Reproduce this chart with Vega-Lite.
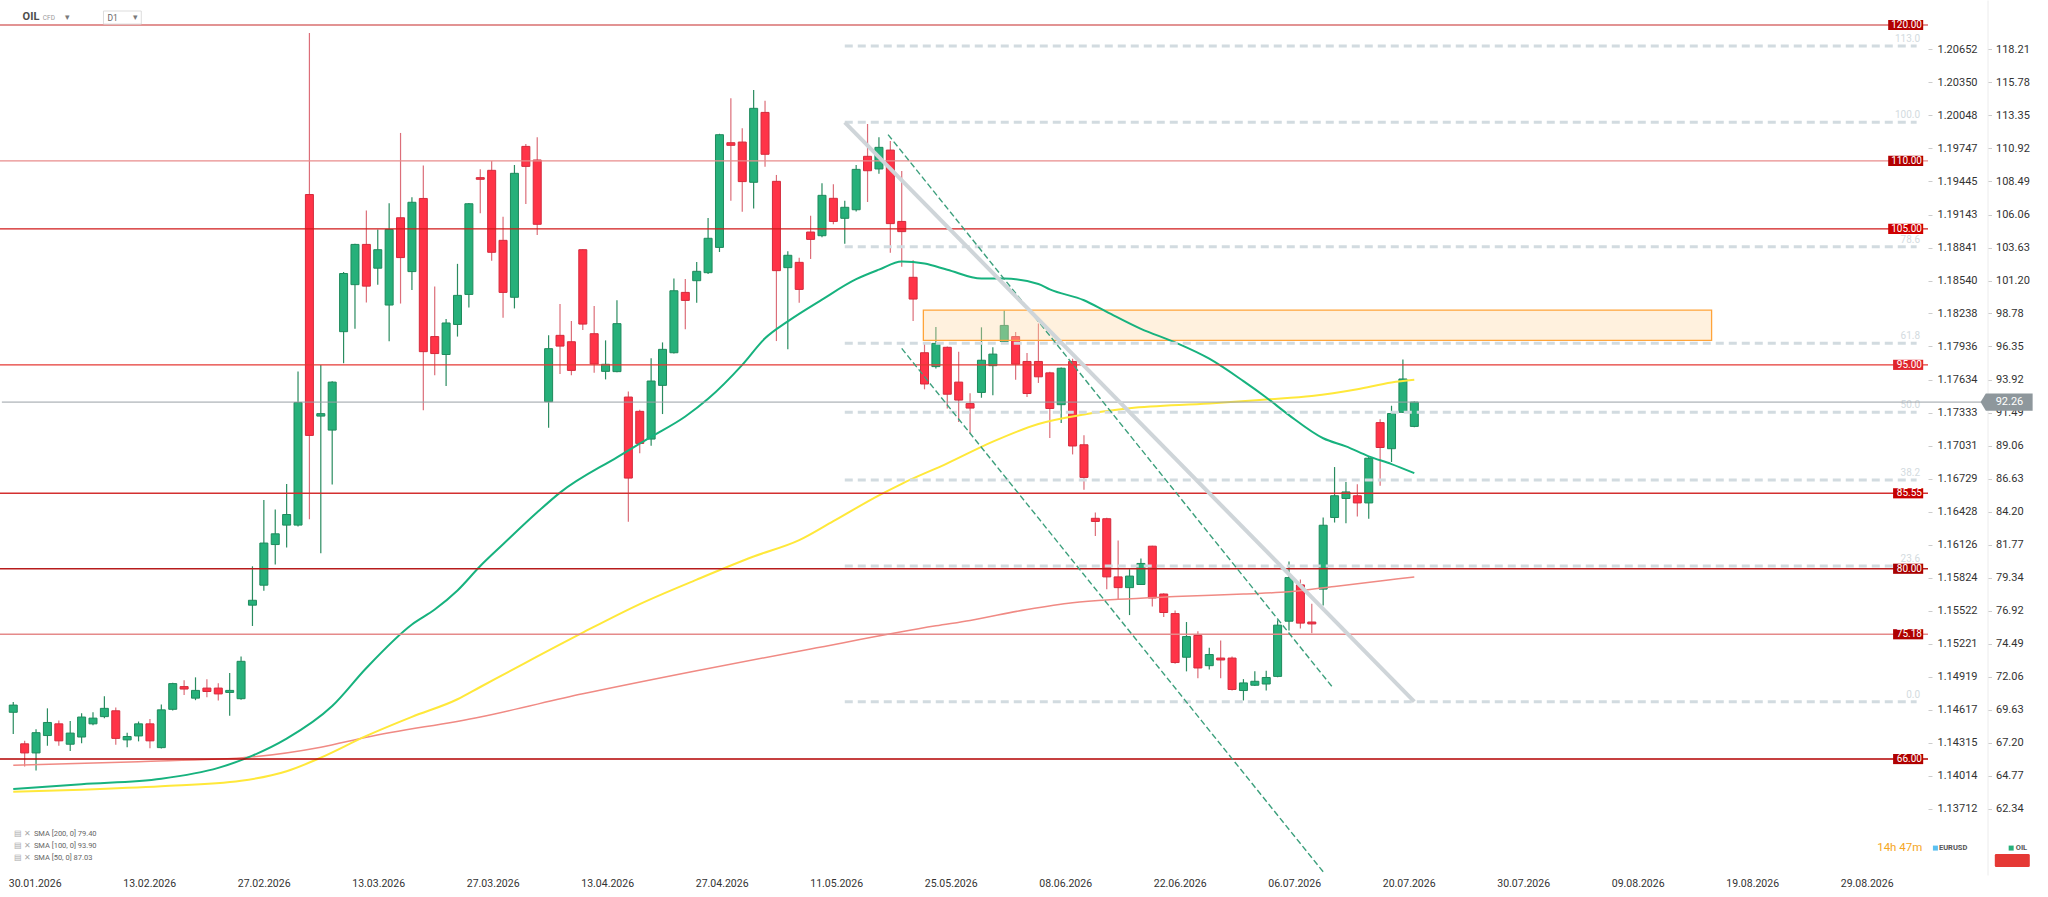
{
  "$schema": "https://vega.github.io/schema/vega-lite/v6.json",
  "width": 1928,
  "height": 875,
  "autosize": {"type": "none"},
  "padding": {"left": 0, "top": 0, "right": 120, "bottom": 22},
  "background": "white",
  "config": {"view": {"stroke": null}, "font": "Roboto", "axis": {"labelFont": "Roboto"}, "text": {"font": "Roboto"}},
  "datasets": {
    "candles": [
      {"i":0,"date":"2026-01-30","o":69.44,"h":70.19,"l":67.84,"c":69.97},
      {"i":1,"date":"2026-02-02","o":67.12,"h":67.34,"l":65.45,"c":66.45},
      {"i":2,"date":"2026-02-03","o":66.45,"h":68.19,"l":65.16,"c":67.94},
      {"i":3,"date":"2026-02-04","o":67.73,"h":69.73,"l":66.98,"c":68.69},
      {"i":4,"date":"2026-02-05","o":68.59,"h":68.83,"l":66.98,"c":67.34},
      {"i":5,"date":"2026-02-06","o":67.09,"h":68.8,"l":66.59,"c":67.91},
      {"i":6,"date":"2026-02-09","o":67.62,"h":69.37,"l":67.16,"c":69.09},
      {"i":7,"date":"2026-02-10","o":68.59,"h":69.44,"l":68.48,"c":69.01},
      {"i":8,"date":"2026-02-11","o":69.12,"h":70.62,"l":69.01,"c":69.73},
      {"i":9,"date":"2026-02-12","o":69.55,"h":69.8,"l":67.05,"c":67.52},
      {"i":10,"date":"2026-02-13","o":67.41,"h":67.94,"l":66.87,"c":67.66},
      {"i":11,"date":"2026-02-16","o":67.7,"h":68.76,"l":67.3,"c":68.59},
      {"i":12,"date":"2026-02-17","o":68.59,"h":68.94,"l":66.8,"c":67.34},
      {"i":13,"date":"2026-02-18","o":66.84,"h":70.01,"l":66.77,"c":69.62},
      {"i":14,"date":"2026-02-19","o":69.66,"h":71.62,"l":69.58,"c":71.55},
      {"i":15,"date":"2026-02-20","o":71.33,"h":71.8,"l":70.72,"c":71.15},
      {"i":16,"date":"2026-02-23","o":70.48,"h":72.01,"l":70.33,"c":71.05},
      {"i":17,"date":"2026-02-24","o":71.22,"h":71.87,"l":70.55,"c":70.97},
      {"i":18,"date":"2026-02-25","o":71.22,"h":71.58,"l":70.3,"c":70.79},
      {"i":19,"date":"2026-02-26","o":70.9,"h":72.33,"l":69.19,"c":71.05},
      {"i":20,"date":"2026-02-27","o":70.44,"h":73.54,"l":70.37,"c":73.19},
      {"i":21,"date":"2026-03-02","o":77.32,"h":80.18,"l":75.79,"c":77.68},
      {"i":22,"date":"2026-03-03","o":78.79,"h":85.06,"l":78.39,"c":81.89},
      {"i":23,"date":"2026-03-04","o":81.78,"h":84.35,"l":80.32,"c":82.57},
      {"i":24,"date":"2026-03-05","o":83.21,"h":86.24,"l":81.57,"c":83.99},
      {"i":25,"date":"2026-03-06","o":83.21,"h":94.51,"l":83.1,"c":92.23},
      {"i":26,"date":"2026-03-09","o":107.53,"h":119.41,"l":83.64,"c":89.81},
      {"i":27,"date":"2026-03-10","o":91.23,"h":94.98,"l":81.14,"c":91.41},
      {"i":28,"date":"2026-03-11","o":90.2,"h":93.8,"l":86.2,"c":93.73},
      {"i":29,"date":"2026-03-12","o":97.44,"h":101.83,"l":95.12,"c":101.72},
      {"i":30,"date":"2026-03-13","o":100.9,"h":103.9,"l":97.65,"c":103.86},
      {"i":31,"date":"2026-03-16","o":103.86,"h":106.35,"l":99.58,"c":100.79},
      {"i":32,"date":"2026-03-17","o":102.11,"h":104.96,"l":100.9,"c":103.47},
      {"i":33,"date":"2026-03-18","o":99.4,"h":106.89,"l":96.73,"c":104.96},
      {"i":34,"date":"2026-03-19","o":105.82,"h":112.06,"l":99.51,"c":102.89},
      {"i":35,"date":"2026-03-20","o":101.86,"h":107.32,"l":100.51,"c":106.96},
      {"i":36,"date":"2026-03-23","o":107.24,"h":109.67,"l":91.66,"c":95.97},
      {"i":37,"date":"2026-03-24","o":97.08,"h":100.76,"l":94.23,"c":95.83},
      {"i":38,"date":"2026-03-25","o":95.76,"h":98.37,"l":93.44,"c":98.08},
      {"i":39,"date":"2026-03-26","o":97.97,"h":102.43,"l":97.08,"c":100.11},
      {"i":40,"date":"2026-03-27","o":100.18,"h":106.9,"l":99.22,"c":106.85},
      {"i":41,"date":"2026-03-30","o":108.77,"h":109.38,"l":106.15,"c":108.65},
      {"i":42,"date":"2026-03-31","o":109.31,"h":109.99,"l":102.66,"c":103.28},
      {"i":43,"date":"2026-04-01","o":104.16,"h":105.9,"l":98.47,"c":100.33},
      {"i":44,"date":"2026-04-02","o":99.97,"h":109.7,"l":99.15,"c":109.09},
      {"i":45,"date":"2026-04-06","o":111.07,"h":111.25,"l":106.83,"c":109.6},
      {"i":46,"date":"2026-04-07","o":110.07,"h":111.74,"l":104.55,"c":105.34},
      {"i":47,"date":"2026-04-08","o":92.29,"h":97.17,"l":90.38,"c":96.19},
      {"i":48,"date":"2026-04-09","o":97.17,"h":99.47,"l":94.33,"c":96.38},
      {"i":49,"date":"2026-04-10","o":96.7,"h":98.22,"l":94.23,"c":94.59},
      {"i":50,"date":"2026-04-13","o":103.47,"h":103.5,"l":97.56,"c":98.0},
      {"i":51,"date":"2026-04-14","o":97.29,"h":99.33,"l":94.42,"c":95.06},
      {"i":52,"date":"2026-04-15","o":94.52,"h":96.8,"l":93.93,"c":95.04},
      {"i":53,"date":"2026-04-16","o":94.5,"h":99.75,"l":94.45,"c":98.03},
      {"i":54,"date":"2026-04-17","o":92.63,"h":93.03,"l":83.46,"c":86.67},
      {"i":55,"date":"2026-04-20","o":91.58,"h":91.7,"l":88.49,"c":89.22},
      {"i":56,"date":"2026-04-21","o":89.54,"h":95.48,"l":89.05,"c":93.81},
      {"i":57,"date":"2026-04-22","o":93.49,"h":96.65,"l":91.38,"c":96.14},
      {"i":58,"date":"2026-04-23","o":95.89,"h":101.36,"l":95.84,"c":100.45},
      {"i":59,"date":"2026-04-24","o":100.33,"h":101.31,"l":97.61,"c":99.74},
      {"i":60,"date":"2026-04-27","o":101.19,"h":102.56,"l":99.57,"c":101.88},
      {"i":61,"date":"2026-04-28","o":101.78,"h":105.8,"l":101.68,"c":104.31},
      {"i":62,"date":"2026-04-29","o":103.64,"h":112.0,"l":103.3,"c":111.93},
      {"i":63,"date":"2026-04-30","o":111.34,"h":114.61,"l":107.08,"c":111.15},
      {"i":64,"date":"2026-05-01","o":111.39,"h":112.4,"l":106.27,"c":108.48},
      {"i":65,"date":"2026-05-04","o":108.43,"h":115.22,"l":106.51,"c":113.87},
      {"i":66,"date":"2026-05-05","o":113.57,"h":114.43,"l":109.58,"c":110.49},
      {"i":67,"date":"2026-05-06","o":108.5,"h":108.97,"l":96.75,"c":101.93},
      {"i":68,"date":"2026-05-07","o":102.15,"h":103.35,"l":96.14,"c":103.06},
      {"i":69,"date":"2026-05-08","o":102.54,"h":102.88,"l":99.57,"c":100.55},
      {"i":70,"date":"2026-05-11","o":104.77,"h":105.97,"l":102.79,"c":104.23},
      {"i":71,"date":"2026-05-12","o":104.5,"h":108.35,"l":104.38,"c":107.47},
      {"i":72,"date":"2026-05-13","o":107.25,"h":108.28,"l":105.34,"c":105.55},
      {"i":73,"date":"2026-05-14","o":105.78,"h":107.08,"l":103.91,"c":106.59},
      {"i":74,"date":"2026-05-15","o":106.41,"h":109.7,"l":106.29,"c":109.38},
      {"i":75,"date":"2026-05-18","o":110.34,"h":112.72,"l":106.98,"c":109.28},
      {"i":76,"date":"2026-05-19","o":109.41,"h":111.74,"l":109.06,"c":111.0},
      {"i":77,"date":"2026-05-20","o":110.8,"h":111.47,"l":103.25,"c":105.39},
      {"i":78,"date":"2026-05-21","o":105.55,"h":109.26,"l":102.22,"c":104.8},
      {"i":79,"date":"2026-05-22","o":101.44,"h":102.69,"l":98.22,"c":99.84},
      {"i":80,"date":"2026-05-25","o":95.89,"h":96.58,"l":93.2,"c":93.59},
      {"i":81,"date":"2026-05-26","o":94.87,"h":97.78,"l":94.74,"c":96.58},
      {"i":82,"date":"2026-05-27","o":96.29,"h":96.35,"l":91.79,"c":92.84},
      {"i":83,"date":"2026-05-28","o":93.73,"h":95.96,"l":90.8,"c":92.41},
      {"i":84,"date":"2026-05-29","o":92.15,"h":92.91,"l":89.96,"c":91.82},
      {"i":85,"date":"2026-06-01","o":92.97,"h":97.76,"l":92.58,"c":95.34},
      {"i":86,"date":"2026-06-02","o":94.94,"h":96.29,"l":92.77,"c":95.79},
      {"i":87,"date":"2026-06-03","o":96.72,"h":99.0,"l":96.6,"c":97.9},
      {"i":88,"date":"2026-06-04","o":97.08,"h":97.42,"l":93.9,"c":95.05},
      {"i":89,"date":"2026-06-05","o":95.25,"h":95.87,"l":92.63,"c":92.89},
      {"i":90,"date":"2026-06-08","o":95.25,"h":98.04,"l":93.67,"c":94.12},
      {"i":91,"date":"2026-06-09","o":94.41,"h":94.5,"l":89.62,"c":91.79},
      {"i":92,"date":"2026-06-10","o":92.07,"h":94.8,"l":90.72,"c":94.75},
      {"i":93,"date":"2026-06-11","o":95.25,"h":95.45,"l":88.41,"c":89.03},
      {"i":94,"date":"2026-06-12","o":89.12,"h":89.82,"l":85.82,"c":86.72},
      {"i":95,"date":"2026-06-15","o":83.71,"h":84.13,"l":82.41,"c":83.48},
      {"i":96,"date":"2026-06-16","o":83.68,"h":83.75,"l":78.5,"c":79.4},
      {"i":97,"date":"2026-06-17","o":79.4,"h":82.08,"l":77.71,"c":78.61},
      {"i":98,"date":"2026-06-18","o":78.61,"h":79.97,"l":76.59,"c":79.46},
      {"i":99,"date":"2026-06-19","o":78.84,"h":80.75,"l":78.8,"c":80.39},
      {"i":100,"date":"2026-06-22","o":81.66,"h":81.7,"l":77.23,"c":77.85},
      {"i":101,"date":"2026-06-23","o":78.14,"h":78.2,"l":76.45,"c":76.78},
      {"i":102,"date":"2026-06-24","o":76.7,"h":76.92,"l":73.01,"c":73.1},
      {"i":103,"date":"2026-06-25","o":73.49,"h":76.08,"l":72.45,"c":75.01},
      {"i":104,"date":"2026-06-26","o":75.09,"h":75.41,"l":71.94,"c":72.7},
      {"i":105,"date":"2026-06-29","o":72.87,"h":74.19,"l":72.59,"c":73.69},
      {"i":106,"date":"2026-06-30","o":73.43,"h":74.73,"l":71.94,"c":73.29},
      {"i":107,"date":"2026-07-01","o":73.43,"h":73.54,"l":71.04,"c":71.12},
      {"i":108,"date":"2026-07-02","o":71.04,"h":71.88,"l":70.31,"c":71.6},
      {"i":109,"date":"2026-07-03","o":71.43,"h":72.45,"l":71.38,"c":71.72},
      {"i":110,"date":"2026-07-06","o":71.52,"h":72.5,"l":71.04,"c":72.0},
      {"i":111,"date":"2026-07-07","o":72.08,"h":76.22,"l":72.02,"c":75.85},
      {"i":112,"date":"2026-07-08","o":76.14,"h":80.53,"l":75.46,"c":79.35},
      {"i":113,"date":"2026-07-09","o":78.81,"h":79.21,"l":75.6,"c":76.0},
      {"i":114,"date":"2026-07-10","o":76.08,"h":77.43,"l":75.26,"c":75.94},
      {"i":115,"date":"2026-07-13","o":78.5,"h":83.77,"l":77.29,"c":83.2},
      {"i":116,"date":"2026-07-14","o":83.77,"h":87.48,"l":83.4,"c":85.37},
      {"i":117,"date":"2026-07-15","o":85.17,"h":86.39,"l":83.34,"c":85.65},
      {"i":118,"date":"2026-07-16","o":85.37,"h":86.22,"l":83.85,"c":84.84},
      {"i":119,"date":"2026-07-17","o":84.84,"h":88.27,"l":83.68,"c":88.13},
      {"i":120,"date":"2026-07-20","o":90.75,"h":91.0,"l":86.1,"c":88.92},
      {"i":121,"date":"2026-07-21","o":88.83,"h":91.99,"l":87.85,"c":91.42},
      {"i":122,"date":"2026-07-22","o":91.51,"h":95.39,"l":91.45,"c":93.96},
      {"i":123,"date":"2026-07-23","o":90.47,"h":92.3,"l":90.4,"c":92.26}
    ],
    "sma50": [
      {"i":0,"v":63.8},{"i":6,"v":64.15},{"i":13,"v":64.55},{"i":18,"v":65.35},{"i":21,"v":66.25},{"i":24,"v":67.5},{"i":28,"v":69.9},{"i":31,"v":72.7},{"i":35,"v":75.9},{"i":37,"v":77.0},{"i":39,"v":78.4},{"i":41,"v":80.2},{"i":43,"v":81.8},{"i":46,"v":84.15},{"i":48,"v":85.6},{"i":53,"v":88.2},{"i":56,"v":89.7},{"i":59,"v":91.2},{"i":61,"v":92.5},{"i":64,"v":95.0},{"i":66,"v":96.95},{"i":68,"v":98.2},{"i":71,"v":99.8},{"i":74,"v":101.3},{"i":76,"v":102.0},{"i":78,"v":102.6},{"i":80,"v":102.45},{"i":82,"v":102.0},{"i":85,"v":101.35},{"i":87,"v":101.35},{"i":90,"v":100.95},{"i":91,"v":100.55},{"i":94,"v":99.75},{"i":96,"v":98.9},{"i":99,"v":97.65},{"i":102,"v":96.65},{"i":105,"v":95.45},{"i":108,"v":93.8},{"i":110,"v":92.6},{"i":112,"v":91.3},{"i":115,"v":89.6},{"i":117,"v":89.0},{"i":119,"v":88.27},{"i":121,"v":87.7},{"i":123,"v":87.03}
    ],
    "sma100": [
      {"i":0,"v":63.6},{"i":6,"v":63.75},{"i":13,"v":64.0},{"i":20,"v":64.4},{"i":24,"v":65.1},{"i":27,"v":66.1},{"i":31,"v":67.7},{"i":35,"v":69.1},{"i":39,"v":70.4},{"i":41,"v":71.3},{"i":45,"v":73.1},{"i":50,"v":75.3},{"i":55,"v":77.4},{"i":60,"v":79.2},{"i":65,"v":80.9},{"i":69,"v":82.1},{"i":72,"v":83.5},{"i":76,"v":85.4},{"i":78,"v":86.25},{"i":82,"v":87.75},{"i":86,"v":89.35},{"i":90,"v":90.65},{"i":94,"v":91.35},{"i":98,"v":91.8},{"i":105,"v":92.15},{"i":110,"v":92.45},{"i":114,"v":92.7},{"i":118,"v":93.2},{"i":121,"v":93.7},{"i":123,"v":93.9}
    ],
    "sma200": [
      {"i":0,"v":65.55},{"i":11,"v":65.8},{"i":21,"v":66.16},{"i":27,"v":66.87},{"i":31,"v":67.6},{"i":41,"v":69.1},{"i":50,"v":70.8},{"i":60,"v":72.5},{"i":70,"v":74.1},{"i":81,"v":75.8},{"i":84,"v":76.2},{"i":89,"v":77.0},{"i":93,"v":77.5},{"i":97,"v":77.75},{"i":102,"v":77.95},{"i":108,"v":78.15},{"i":112,"v":78.3},{"i":116,"v":78.7},{"i":120,"v":79.1},{"i":123,"v":79.4}
    ],
    "levels": [
      {"label":"120.00","v":120},{"label":"110.00","v":110},{"label":"105.00","v":105},{"label":"95.00","v":95},{"label":"85.55","v":85.55},{"label":"80.00","v":80},{"label":"75.18","v":75.18},{"label":"66.00","v":66}
    ],
    "fib": [
      {"pct":"113.0","v":118.46},{"pct":"100.0","v":112.84},{"pct":"78.6","v":103.69},{"pct":"61.8","v":96.58},{"pct":"50.0","v":91.51},{"pct":"38.2","v":86.53},{"pct":"23.6","v":80.2},{"pct":"0.0","v":70.22}
    ],
    "channel": [
      {"id":"A","i":76.8,"v":111.94},{"id":"A","i":115.9,"v":71.2},
      {"id":"B","i":78.0,"v":96.21},{"id":"B","i":115.1,"v":57.6}
    ],
    "fibline": [{"i":73.0,"v":112.84},{"i":123.0,"v":70.22}],
    "zone": [{"i1":79.9,"i2":149.1,"v1":96.8,"v2":99.03}]
  },
  "layer": [
    {
      "layer": [
        {
          "data": {"name": "candles"},
          "mark": {"type": "rule", "strokeWidth": 1.2},
          "encoding": {
            "x": {"field": "i", "type": "quantitative", "axis": null,
              "scale": {"domain": [-0.725, 167.66], "nice": false, "zero": false}},
            "y": {"field": "l", "type": "quantitative", "axis": null,
              "scale": {"domain": [57.47, 121.84], "nice": false, "zero": false}},
            "y2": {"field": "h"},
            "color": {"condition": {"test": "datum.c >= datum.o", "value": "#2a8c60"}, "value": "#dc6e79"}
          }
        },
        {
          "data": {"name": "candles"},
          "mark": {"type": "bar", "width": 8, "strokeWidth": 1},
          "encoding": {
            "x": {"field": "i", "type": "quantitative", "axis": null},
            "y": {"field": "o", "type": "quantitative", "axis": null},
            "y2": {"field": "c"},
            "fill": {"condition": {"test": "datum.c >= datum.o", "value": "#26b07a"}, "value": "#ff3347"},
            "stroke": {"condition": {"test": "datum.c >= datum.o", "value": "#1e8a5c"}, "value": "#d42a3c"}
          }
        },
        {
          "data": {"name": "zone"},
          "mark": {"type": "rect", "fill": "#ffd9a8", "fillOpacity": 0.38, "stroke": "#ffa43a", "strokeWidth": 1.3},
          "encoding": {
            "x": {"field": "i1", "type": "quantitative", "axis": null},
            "x2": {"field": "i2"},
            "y": {"field": "v1", "type": "quantitative", "axis": null},
            "y2": {"field": "v2"}
          }
        },
        {
          "data": {"name": "sma200"},
          "mark": {"type": "line", "color": "#f08a84", "strokeWidth": 1.5, "interpolate": "monotone"},
          "encoding": {
            "x": {"field": "i", "type": "quantitative", "axis": null},
            "y": {"field": "v", "type": "quantitative", "axis": null}
          }
        },
        {
          "data": {"name": "sma100"},
          "mark": {"type": "line", "color": "#ffe83a", "strokeWidth": 2, "interpolate": "monotone"},
          "encoding": {
            "x": {"field": "i", "type": "quantitative", "axis": null},
            "y": {"field": "v", "type": "quantitative", "axis": null}
          }
        },
        {
          "data": {"name": "sma50"},
          "mark": {"type": "line", "color": "#17b27e", "strokeWidth": 2, "interpolate": "monotone"},
          "encoding": {
            "x": {"field": "i", "type": "quantitative", "axis": null},
            "y": {"field": "v", "type": "quantitative", "axis": null}
          }
        },
        {
          "data": {"name": "fib"},
          "mark": {"type": "rule", "color": "#d2dbe0", "strokeWidth": 3, "strokeDash": [8, 5]},
          "encoding": {
            "x": {"datum": 73.0, "type": "quantitative", "axis": null},
            "x2": {"datum": 167.1},
            "y": {"field": "v", "type": "quantitative", "axis": null}
          }
        },
        {
          "data": {"name": "fib"},
          "mark": {"type": "text", "align": "right", "baseline": "bottom", "dy": -2, "fontSize": 10, "color": "#d3dbe0"},
          "encoding": {
            "x": {"datum": 167.4, "type": "quantitative", "axis": null},
            "y": {"field": "v", "type": "quantitative", "axis": null},
            "text": {"field": "pct"}
          }
        },
        {
          "data": {"values": [{}]},
          "mark": {"type": "rule", "color": "#9aa1a6", "strokeWidth": 1},
          "encoding": {
            "x": {"datum": -1, "type": "quantitative", "axis": null},
            "x2": {"datum": 172.8},
            "y": {"datum": 92.26, "type": "quantitative", "axis": null}
          }
        },
        {
          "data": {"name": "levels"},
          "mark": {"type": "rule"},
          "encoding": {
            "y": {"field": "v", "type": "quantitative", "axis": null},
            "stroke": {"field": "label", "type": "nominal", "legend": null,
              "scale": {"domain": ["120.00","110.00","105.00","95.00","85.55","80.00","75.18","66.00"],
                "range": ["#c62828","#e88c8c","#d11a1a","#e53935","#d32f2f","#b71c1c","#e58a8a","#b30000"]}},
            "strokeWidth": {"field": "label", "type": "ordinal", "legend": null,
              "scale": {"domain": ["120.00","110.00","105.00","95.00","85.55","80.00","75.18","66.00"],
                "range": [1.2, 1.6, 2, 2, 2, 2, 1.6, 2.6]}}
          }
        },
        {
          "data": {"name": "channel"},
          "mark": {"type": "line", "color": "#3c9f7c", "strokeWidth": 1.4, "strokeDash": [6, 3]},
          "encoding": {
            "x": {"field": "i", "type": "quantitative", "axis": null},
            "y": {"field": "v", "type": "quantitative", "axis": null},
            "detail": {"field": "id"}
          }
        },
        {
          "data": {"name": "fibline"},
          "mark": {"type": "line", "color": "#cfd5d9", "strokeWidth": 4},
          "encoding": {
            "x": {"field": "i", "type": "quantitative", "axis": null},
            "y": {"field": "v", "type": "quantitative", "axis": null}
          }
        },
        {
          "data": {"name": "levels"},
          "mark": {"type": "point", "filled": true, "size": 1225, "opacity": 1, "strokeWidth": 0},
          "encoding": {
            "x": {"datum": 166.14, "type": "quantitative", "axis": null},
            "y": {"field": "v", "type": "quantitative", "axis": null},
            "shape": {"field": "label", "type": "nominal", "legend": null,
              "scale": {"domain": ["120.00","110.00","105.00","95.00","85.55","80.00","75.18","66.00"],
                "range": ["M-1,-0.29L1,-0.29L1,0.29L-1,0.29Z","M-1,-0.29L1,-0.29L1,0.29L-1,0.29Z","M-1,-0.29L1,-0.29L1,0.29L-1,0.29Z","M-0.72,-0.29L1,-0.29L1,0.29L-0.72,0.29Z","M-0.72,-0.29L1,-0.29L1,0.29L-0.72,0.29Z","M-0.72,-0.29L1,-0.29L1,0.29L-0.72,0.29Z","M-0.72,-0.29L1,-0.29L1,0.29L-0.72,0.29Z","M-0.72,-0.29L1,-0.29L1,0.29L-0.72,0.29Z"]}},
            "fill": {"field": "label", "type": "nominal", "legend": null,
              "scale": {"domain": ["120.00","110.00","105.00","95.00","85.55","80.00","75.18","66.00"],
                "range": ["#b30000","#b30000","#cf0000","#e0262e","#c60000","#a80000","#b00000","#b00000"]}}
          }
        },
        {
          "data": {"name": "levels"},
          "mark": {"type": "text", "align": "right", "baseline": "middle", "fontSize": 10, "color": "#ffffff"},
          "encoding": {
            "x": {"datum": 167.57, "type": "quantitative", "axis": null},
            "y": {"field": "v", "type": "quantitative", "axis": null},
            "text": {"field": "label"}
          }
        },
        {
          "data": {"values": [{}]},
          "mark": {"type": "point", "filled": true, "size": 2704, "opacity": 1, "strokeWidth": 0, "color": "#8e979c",
            "shape": "M-1,0L-0.8,-0.33L1,-0.33L1,0.33L-0.8,0.33Z"},
          "encoding": {
            "x": {"datum": 175.0, "type": "quantitative", "axis": null},
            "y": {"datum": 92.26, "type": "quantitative", "axis": null}
          }
        },
        {
          "data": {"values": [{}]},
          "mark": {"type": "text", "align": "center", "baseline": "middle", "fontSize": 11, "color": "#ffffff", "text": "92.26"},
          "encoding": {
            "x": {"datum": 175.25, "type": "quantitative", "axis": null},
            "y": {"datum": 92.26, "type": "quantitative", "axis": null}
          }
        },
        {
          "data": {"values": [{}]},
          "mark": {"type": "rect", "fill": "#ffffff", "stroke": "#dddddd", "strokeWidth": 1},
          "encoding": {
            "x": {"datum": 7.92, "type": "quantitative", "axis": null},
            "x2": {"datum": 11.24},
            "y": {"datum": 121.03, "type": "quantitative", "axis": null},
            "y2": {"datum": 120.07}
          }
        },
        {
          "data": {"values": [{}]},
          "mark": {"type": "text", "align": "left", "baseline": "middle", "fontSize": 11, "fontWeight": "bold", "color": "#4d4d4d", "text": "OIL"},
          "encoding": {
            "x": {"datum": 0.82, "type": "quantitative", "axis": null},
            "y": {"datum": 120.61, "type": "quantitative", "axis": null}
          }
        },
        {
          "data": {"values": [{}]},
          "mark": {"type": "text", "align": "left", "baseline": "middle", "fontSize": 6.5, "color": "#9a9a9a", "text": "CFD"},
          "encoding": {
            "x": {"datum": 2.6, "type": "quantitative", "axis": null},
            "y": {"datum": 120.5, "type": "quantitative", "axis": null}
          }
        },
        {
          "data": {"values": [{}]},
          "mark": {"type": "text", "align": "center", "baseline": "middle", "fontSize": 9, "color": "#7a7a7a", "text": "▾"},
          "encoding": {
            "x": {"datum": 4.78, "type": "quantitative", "axis": null},
            "y": {"datum": 120.6, "type": "quantitative", "axis": null}
          }
        },
        {
          "data": {"values": [{}]},
          "mark": {"type": "text", "align": "left", "baseline": "middle", "fontSize": 8.5, "color": "#666666", "text": "D1"},
          "encoding": {
            "x": {"datum": 8.27, "type": "quantitative", "axis": null},
            "y": {"datum": 120.53, "type": "quantitative", "axis": null}
          }
        },
        {
          "data": {"values": [{}]},
          "mark": {"type": "text", "align": "center", "baseline": "middle", "fontSize": 9, "color": "#7a7a7a", "text": "▾"},
          "encoding": {
            "x": {"datum": 10.72, "type": "quantitative", "axis": null},
            "y": {"datum": 120.6, "type": "quantitative", "axis": null}
          }
        },
        {
          "data": {"values": [{}]},
          "mark": {"type": "text", "align": "left", "baseline": "top", "fontSize": 7.5, "lineHeight": 12, "color": "#a8a8a8",
            "text": ["▤ ✕", "▤ ✕", "▤ ✕"]},
          "encoding": {
            "x": {"datum": 0.05, "type": "quantitative", "axis": null},
            "y": {"datum": 60.78, "type": "quantitative", "axis": null}
          }
        },
        {
          "data": {"values": [{}]},
          "mark": {"type": "text", "align": "left", "baseline": "top", "fontSize": 7.5, "lineHeight": 12, "color": "#666666",
            "text": ["SMA [200, 0] 79.40", "SMA [100, 0] 93.90", "SMA [50, 0] 87.03"]},
          "encoding": {
            "x": {"datum": 1.81, "type": "quantitative", "axis": null},
            "y": {"datum": 60.78, "type": "quantitative", "axis": null}
          }
        },
        {
          "data": {"values": [{}]},
          "mark": {"type": "text", "align": "right", "baseline": "middle", "fontSize": 11.5, "color": "#f5a623", "text": "14h 47m"},
          "encoding": {
            "x": {"datum": 167.6, "type": "quantitative", "axis": null},
            "y": {"datum": 59.45, "type": "quantitative", "axis": null}
          }
        },
        {
          "data": {"values": [{}]},
          "mark": {"type": "point", "shape": "square", "filled": true, "size": 25, "opacity": 1, "color": "#5bc0f0"},
          "encoding": {
            "x": {"datum": 168.75, "type": "quantitative", "axis": null},
            "y": {"datum": 59.45, "type": "quantitative", "axis": null}
          }
        },
        {
          "data": {"values": [{}]},
          "mark": {"type": "text", "align": "left", "baseline": "middle", "fontSize": 7.5, "fontWeight": "bold", "color": "#555555", "text": "EURUSD"},
          "encoding": {
            "x": {"datum": 169.06, "type": "quantitative", "axis": null},
            "y": {"datum": 59.45, "type": "quantitative", "axis": null}
          }
        },
        {
          "data": {"values": [{}]},
          "mark": {"type": "point", "shape": "square", "filled": true, "size": 25, "opacity": 1, "color": "#26b07a"},
          "encoding": {
            "x": {"datum": 175.4, "type": "quantitative", "axis": null},
            "y": {"datum": 59.45, "type": "quantitative", "axis": null}
          }
        },
        {
          "data": {"values": [{}]},
          "mark": {"type": "text", "align": "left", "baseline": "middle", "fontSize": 7.5, "fontWeight": "bold", "color": "#555555", "text": "OIL"},
          "encoding": {
            "x": {"datum": 175.8, "type": "quantitative", "axis": null},
            "y": {"datum": 59.45, "type": "quantitative", "axis": null}
          }
        },
        {
          "data": {"values": [{}]},
          "mark": {"type": "point", "filled": true, "size": 1225, "opacity": 1, "strokeWidth": 0, "color": "#e53935",
            "shape": "M-0.92,-0.37L0.92,-0.37Q1,-0.37 1,-0.29L1,0.29Q1,0.37 0.92,0.37L-0.92,0.37Q-1,0.37 -1,0.29L-1,-0.29Q-1,-0.37 -0.92,-0.37Z"},
          "encoding": {
            "x": {"datum": 175.5, "type": "quantitative", "axis": null},
            "y": {"datum": 58.53, "type": "quantitative", "axis": null}
          }
        }
      ]
    },
    {
      "data": {"values": [{}]},
      "mark": {"type": "point", "opacity": 0},
      "encoding": {
        "y": {"datum": 90, "type": "quantitative",
          "scale": {"domain": [57.47, 121.84], "nice": false, "zero": false},
          "axis": {"orient": "right", "offset": 59.5,
            "values": [118.21,115.78,113.35,110.92,108.49,106.06,103.63,101.2,98.78,96.35,93.92,91.49,89.06,86.63,84.2,81.77,79.34,76.92,74.49,72.06,69.63,67.2,64.77,62.34],
            "format": ".2f", "title": null, "domain": true, "domainColor": "#ececec", "tickSize": 4, "tickColor": "#cccccc",
            "labelPadding": 4, "labelFontSize": 11, "labelColor": "#333333", "grid": false, "labelOverlap": false, "labelFlush": false}}
      }
    },
    {
      "data": {"values": [{}]},
      "mark": {"type": "point", "opacity": 0},
      "encoding": {
        "y": {"datum": 90, "type": "quantitative",
          "scale": {"domain": [57.47, 121.84], "nice": false, "zero": false},
          "axis": {"orient": "right", "offset": 0,
            "values": [118.21,115.78,113.35,110.92,108.49,106.06,103.63,101.2,98.78,96.35,93.92,91.49,89.06,86.63,84.2,81.77,79.34,76.92,74.49,72.06,69.63,67.2,64.77,62.34],
            "labelExpr": "['1.20652','1.20350','1.20048','1.19747','1.19445','1.19143','1.18841','1.18540','1.18238','1.17936','1.17634','1.17333','1.17031','1.16729','1.16428','1.16126','1.15824','1.15522','1.15221','1.14919','1.14617','1.14315','1.14014','1.13712'][indexof([118.21,115.78,113.35,110.92,108.49,106.06,103.63,101.2,98.78,96.35,93.92,91.49,89.06,86.63,84.2,81.77,79.34,76.92,74.49,72.06,69.63,67.2,64.77,62.34], datum.value)]",
            "title": null, "domain": false, "tickSize": 4, "tickColor": "#cccccc", "labelPadding": 5,
            "labelFontSize": 11, "labelColor": "#333333", "grid": false, "labelOverlap": false, "labelFlush": false}}
      }
    },
    {
      "data": {"values": [{}]},
      "mark": {"type": "point", "opacity": 0},
      "encoding": {
        "x": {"datum": 10, "type": "quantitative",
          "scale": {"domain": [-0.725, 167.66], "nice": false, "zero": false},
          "axis": {"values": [0,10,20,30,40,50,60,70,80,90,100,110,120,130,140,150,160],
            "labelExpr": "['30.01.2026','13.02.2026','27.02.2026','13.03.2026','27.03.2026','13.04.2026','27.04.2026','11.05.2026','25.05.2026','08.06.2026','22.06.2026','06.07.2026','20.07.2026','30.07.2026','09.08.2026','19.08.2026','29.08.2026'][round(datum.value/10)]",
            "orient": "bottom", "labelAlign": "left", "labelBaseline": "top", "domain": false, "ticks": false, "grid": false, "title": null,
            "labelFontSize": 10.5, "labelColor": "#333333", "labelPadding": 3, "labelOverlap": false, "labelFlush": false}}
      }
    }
  ],
  "resolve": {"scale": {"x": "independent", "y": "independent"}}
}
